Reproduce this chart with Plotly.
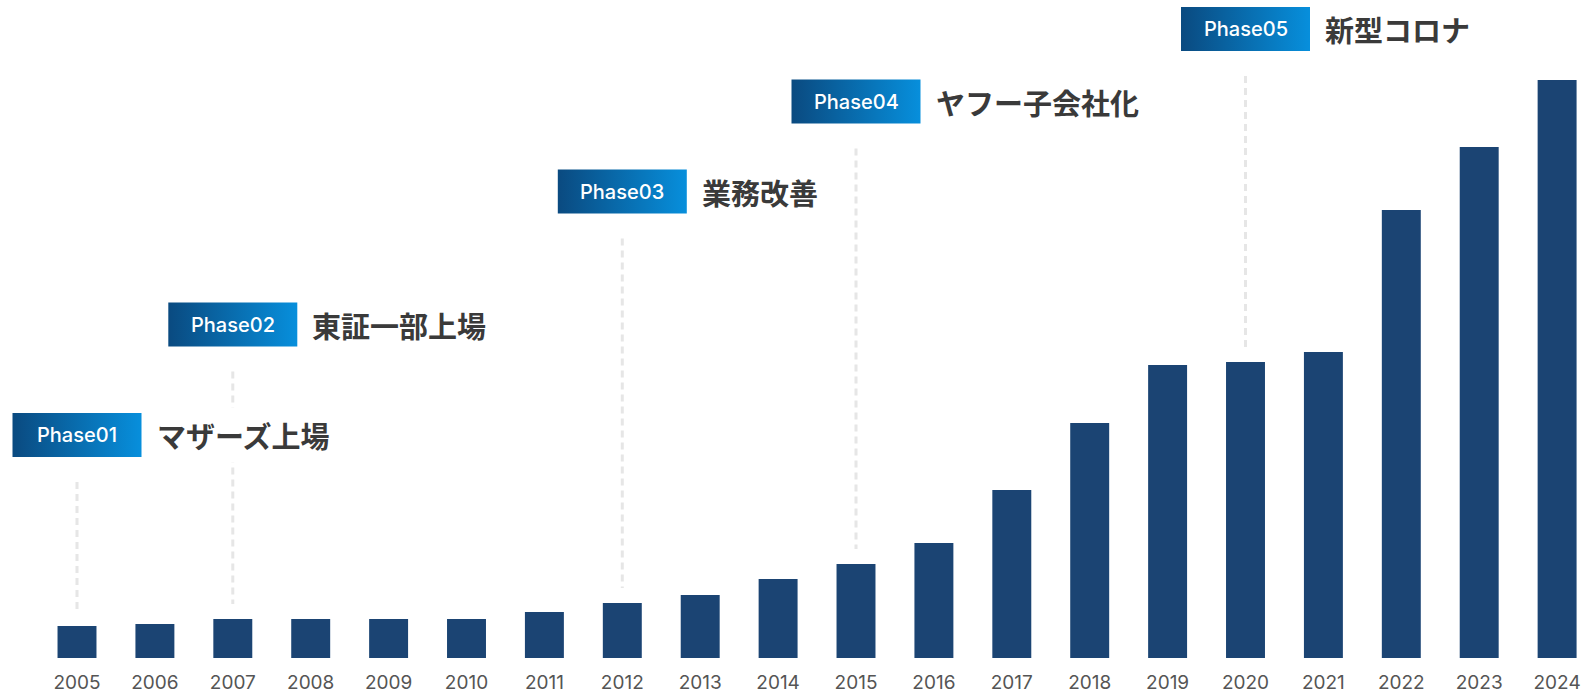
import plotly.graph_objects as go

# ---------------- data ----------------
years = [str(y) for y in range(2005, 2025)]
values = [32, 34, 39, 39, 39, 39, 46, 55, 63, 79, 94, 115, 168, 235, 293, 296, 306, 448, 511, 578]

phase_names = ["Phase01", "Phase02", "Phase03", "Phase04", "Phase05"]
phase_titles = ["マザーズ上場", "東証一部上場", "業務改善", "ヤフー子会社化", "新型コロナ"]
phase_years = ["2005", "2007", "2012", "2015", "2020"]

# ---------------- layout constants ----------------
W, H = 1583, 694
MB = 36
plot_h = H - MB
step_px = 77.9          # pixel distance between categories
first_px = 77           # pixel center of the first category
x0 = -first_px / step_px
x1 = x0 + W / step_px
label_levels = [223, 333.5, 466.5, 556.5, 629]   # vertical centre of phase boxes (axis units)
box_half_w = 64.5 / step_px
box_half_h = 22
line_gap_top = 25
line_gap_bottom = 15

BAR_COLOR = "#1b4473"
idx = list(range(len(years)))

fig = go.Figure()

# dashed guide lines
for name, yr, lvl in zip(phase_names, phase_years, label_levels):
    i = years.index(yr)
    fig.add_trace(go.Scatter(
        x=[i, i],
        y=[lvl - box_half_h - line_gap_top, values[i] + line_gap_bottom],
        mode="lines",
        line=dict(color="#e6e6e6", width=3, dash="7px,5px"),
        hoverinfo="skip", showlegend=False,
    ))

# bars
fig.add_trace(go.Bar(
    x=idx, y=values, marker=dict(color=BAR_COLOR, line=dict(width=0)),
    width=0.5, showlegend=False, hoverinfo="skip",
))

# gradient phase boxes
for name, yr, lvl in zip(phase_names, phase_years, label_levels):
    i = years.index(yr)
    xl, xr = i - box_half_w, i + box_half_w
    yb, yt = lvl - box_half_h, lvl + box_half_h
    fig.add_trace(go.Scatter(
        x=[xl, xr, xr, xl, xl],
        y=[yb, yb, yt, yt, yb],
        mode="lines", line=dict(width=0),
        fill="toself",
        fillgradient=dict(type="horizontal",
                          colorscale=[[0, "#0a4a80"], [1, "#078fdc"]]),
        hoverinfo="skip", showlegend=False,
    ))

annotations = []
for name, title, yr, lvl in zip(phase_names, phase_titles, phase_years, label_levels):
    i = years.index(yr)
    annotations.append(dict(
        x=i, y=lvl, xref="x", yref="y", text=name, showarrow=False,
        font=dict(family="Inter, Noto Sans, sans-serif", size=20, color="#ffffff", weight=500),
        xanchor="center", yanchor="middle",
    ))
    annotations.append(dict(
        x=i + box_half_w, y=lvl, xref="x", yref="y", text=title, showarrow=False,
        xshift=8,
        font=dict(family="Noto Sans CJK JP", size=29, color="#3a3a3a", weight="bold"),
        xanchor="left", yanchor="middle", bgcolor="#ffffff", borderpad=6,
    ))

fig.update_layout(
    width=W, height=H,
    margin=dict(l=0, r=0, t=0, b=MB),
    paper_bgcolor="#ffffff", plot_bgcolor="#ffffff",
    xaxis=dict(range=[x0, x1], tickmode="array", tickvals=idx, ticktext=years,
               showgrid=False, zeroline=False, showline=False, ticks="",
               ticklabelstandoff=11,
               tickfont=dict(family="Inter, Noto Sans, sans-serif", size=19, color="#555555"),
               fixedrange=True),
    yaxis=dict(range=[0, plot_h], visible=False, showgrid=False, zeroline=False, fixedrange=True),
    annotations=annotations,
    hovermode=False,
    showlegend=False,
)

fig.write_html("out.html", config={"displayModeBar": False})
